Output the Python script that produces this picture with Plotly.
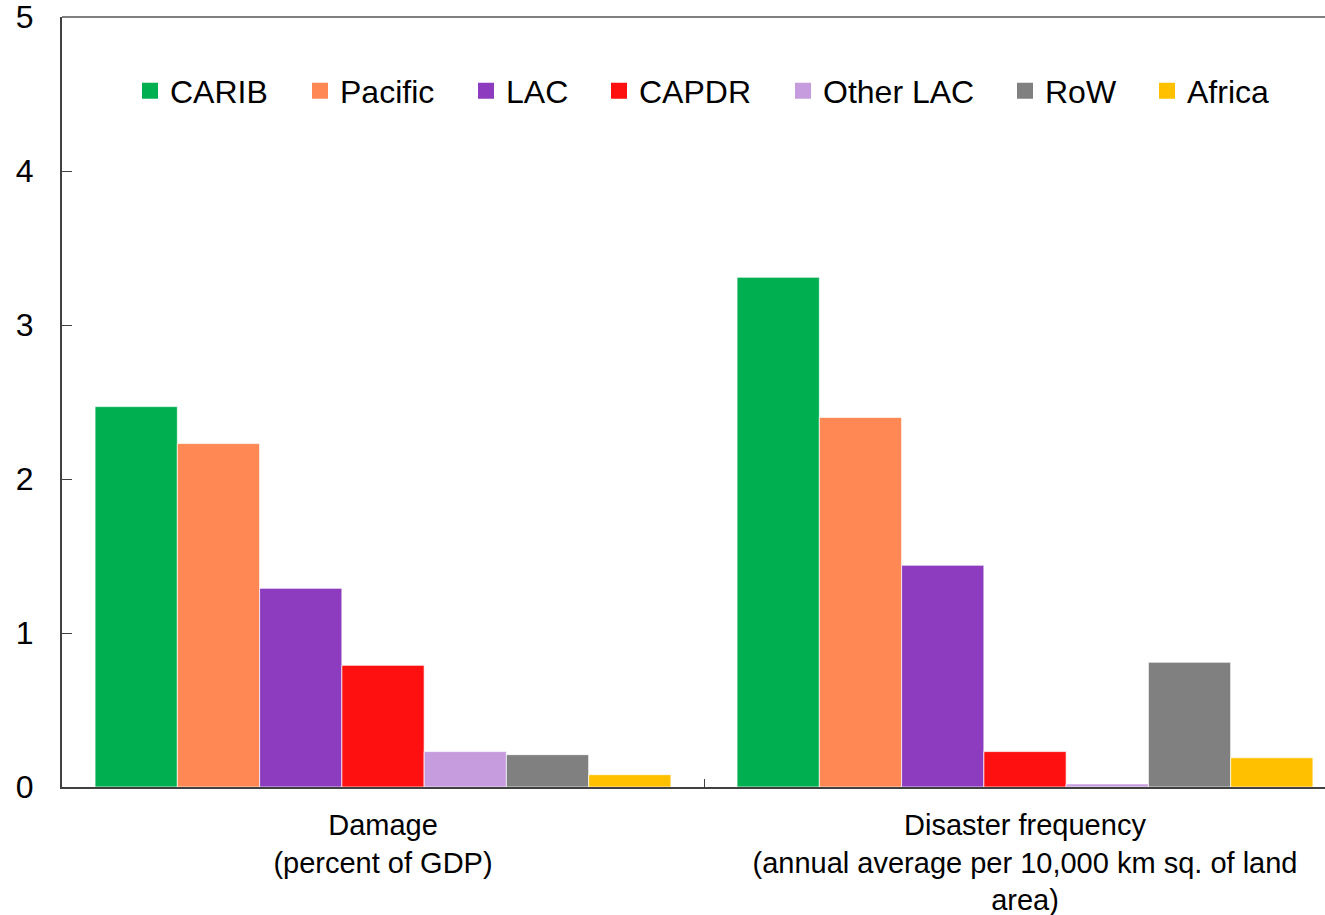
import plotly.graph_objects as go

# Categories (x-axis) and series values
categories = [
    "Damage<br>(percent of GDP)",
    "Disaster frequency<br>(annual average per 10,000 km sq. of land<br>area)",
]
series_names = ["CARIB", "Pacific", "LAC", "CAPDR", "Other LAC", "RoW", "Africa"]
carib = [2.47, 3.31]
pacific = [2.23, 2.40]
lac = [1.29, 1.44]
capdr = [0.79, 0.23]
other_lac = [0.23, 0.02]
row = [0.21, 0.81]
africa = [0.08, 0.19]
y_ticks = [0, 1, 2, 3, 4, 5]

series_values = [carib, pacific, lac, capdr, other_lac, row, africa]
colors = ["#00B050", "#FF8854", "#8E3CBF", "#FF1010", "#C69CDE", "#808080", "#FFC000"]

FONT = "Liberation Sans, Arial, sans-serif"
W, H = 1325, 915
ML, MR, MT, MB = 62, 0, 17, 128
plot_w = W - ML - MR
plot_h = H - MT - MB

# pixel positions of each legend entry (left edge of legend box)
legend_px = [130, 300, 466, 599, 783, 1005, 1147]
legend_y_px = 91

fig = go.Figure()
for i, (name, vals, col) in enumerate(zip(series_names, series_values, colors)):
    fig.add_trace(go.Bar(
        x=categories, y=vals, name=name, showlegend=False,
        marker=dict(color=col, line=dict(color="rgba(255,255,255,0.7)", width=1)),
    ))
    lg = "legend" if i == 0 else f"legend{i+1}"
    fig.add_trace(go.Scatter(
        x=[None], y=[None], mode="markers", name=name, legend=lg,
        marker=dict(symbol="square", size=17, color=col),
    ))

legend_layout = {}
for i, px in enumerate(legend_px):
    key = "legend" if i == 0 else f"legend{i+1}"
    legend_layout[key] = dict(
        x=(px - ML) / plot_w, xanchor="left",
        y=(787 - legend_y_px) / plot_h, yanchor="middle",
        orientation="h", bgcolor="rgba(0,0,0,0)", borderwidth=0,
        itemsizing="trace", itemwidth=30,
        font=dict(family=FONT, size=32, color="black"),
    )

# category spacing: one category spans 642 px
cat_px = 642
x_right = -0.5 + plot_w / cat_px

fig.update_layout(
    width=W, height=H,
    margin=dict(l=ML, r=MR, t=MT, b=MB, autoexpand=False),
    paper_bgcolor="white", plot_bgcolor="white",
    barmode="group", bargap=0.103, bargroupgap=0,
    font=dict(family=FONT, size=29, color="black"),
    xaxis=dict(
        range=[-0.5, x_right], showgrid=False, zeroline=False, automargin=False,
        showline=True, linecolor="#404040", linewidth=2,
        ticks="inside", tickson="boundaries", ticklen=8, tickcolor="#404040",
        tickfont=dict(family=FONT, size=29, color="black"),
        ticklabelstandoff=11,
    ),
    yaxis=dict(
        range=[0, 5], tickvals=y_ticks, showgrid=False, zeroline=False, automargin=False,
        showline=True, linecolor="#404040", linewidth=2,
        ticks="inside", ticklen=10, tickcolor="#404040",
        tickfont=dict(family=FONT, size=32, color="black"),
        ticklabelstandoff=20, ticklabeloverflow="allow",
    ),
    shapes=[dict(type="line", xref="paper", yref="paper", x0=0, x1=1, y0=1, y1=1,
                 line=dict(color="#7F7F7F", width=2))],
    **legend_layout,
)

fig.write_html("out.html")
